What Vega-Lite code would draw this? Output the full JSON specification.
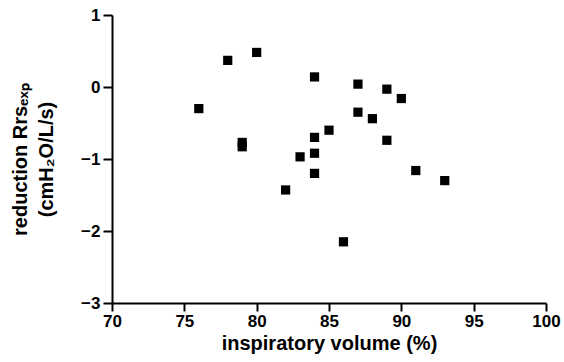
{
  "$schema": "https://vega.github.io/schema/vega-lite/v6.json",
  "width": 434,
  "height": 288,
  "autosize": {"type": "none"},
  "padding": {"left": 112, "top": 15, "right": 18, "bottom": 59},
  "background": "white",
  "config": {
    "view": {"stroke": null},
    "font": "Liberation Sans",
    "axis": {
      "grid": false,
      "domainColor": "black",
      "domainWidth": 2,
      "tickColor": "black",
      "tickWidth": 2,
      "tickSize": 8,
      "labelFlush": false,
      "labelOverlap": false,
      "labelFont": "Liberation Sans",
      "labelFontWeight": "bold",
      "labelFontSize": 17,
      "labelColor": "black",
      "titleFont": "Liberation Sans",
      "titleFontWeight": "bold",
      "titleFontSize": 20,
      "titleColor": "black"
    }
  },
  "data": {
    "values": [
      {"volume": 76, "reduction": -0.30},
      {"volume": 78, "reduction": 0.37},
      {"volume": 80, "reduction": 0.48},
      {"volume": 84, "reduction": 0.14},
      {"volume": 87, "reduction": 0.04},
      {"volume": 89, "reduction": -0.03},
      {"volume": 90, "reduction": -0.16},
      {"volume": 87, "reduction": -0.35},
      {"volume": 88, "reduction": -0.44},
      {"volume": 85, "reduction": -0.60},
      {"volume": 84, "reduction": -0.70},
      {"volume": 89, "reduction": -0.74},
      {"volume": 79, "reduction": -0.77},
      {"volume": 79, "reduction": -0.83},
      {"volume": 84, "reduction": -0.92},
      {"volume": 83, "reduction": -0.97},
      {"volume": 84, "reduction": -1.20},
      {"volume": 91, "reduction": -1.16},
      {"volume": 93, "reduction": -1.30},
      {"volume": 82, "reduction": -1.43},
      {"volume": 86, "reduction": -2.15}
    ]
  },
  "mark": {"type": "point", "shape": "square", "filled": true, "color": "black", "opacity": 1, "size": 85},
  "encoding": {
    "x": {
      "field": "volume",
      "type": "quantitative",
      "scale": {"domain": [70, 100], "nice": false, "zero": false},
      "axis": {
        "values": [70, 75, 80, 85, 90, 95, 100],
        "labelPadding": 2,
        "title": "inspiratory volume (%)",
        "titlePadding": 4
      }
    },
    "y": {
      "field": "reduction",
      "type": "quantitative",
      "scale": {"domain": [-3, 1], "nice": false, "zero": false},
      "axis": {
        "values": [-3, -2, -1, 0, 1],
        "labelPadding": 3,
        "tickSize": 9,
        "title": ["reduction Rrsₑₓₚ", "(cmH₂O/L/s)"],
        "titlePadding": 24,
        "titleLineHeight": 26
      }
    }
  }
}
